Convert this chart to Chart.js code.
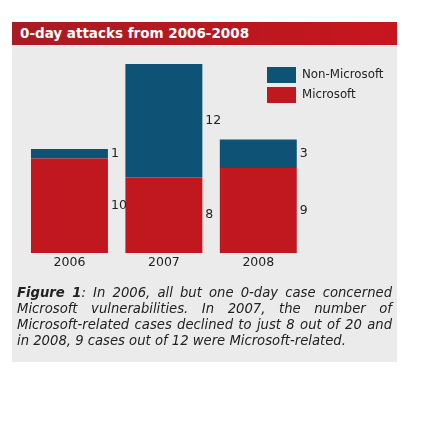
<!DOCTYPE html>
<html>
<head>
<meta charset="utf-8">
<script src="https://cdn.jsdelivr.net/npm/chart.js@4"></script>
<style>
html,body{margin:0;padding:0;background:#fff;width:442px;height:421px;overflow:hidden;}
#panel{position:absolute;left:12px;top:22px;width:385px;height:340px;background:#ebebeb;}
#title{position:absolute;left:12px;top:22px;width:385px;height:23px;background:linear-gradient(to right,#a81c22,#c8151d);color:#fff;font:bold 13.5px "DejaVu Sans",sans-serif;line-height:23px;box-sizing:border-box;padding-left:8px;}
#cv{position:absolute;left:0;top:0;}
#caption{position:absolute;left:17px;top:285px;width:375px;font:italic 13.2px "DejaVu Sans",sans-serif;line-height:16px;color:#222;}
#caption div{text-align:justify;text-align-last:justify;white-space:nowrap;}
#caption div.last{text-align-last:left;}
#caption b{font-weight:bold;}
</style>
</head>
<body>
<div id="panel"></div>
<div id="title">0-day attacks from 2006-2008</div>
<canvas id="cv" width="442" height="421"></canvas>
<div id="caption">
<div><b>Figure 1</b>: In 2006, all but one 0-day case concerned</div>
<div>Microsoft vulnerabilities. In 2007, the number of</div>
<div>Microsoft-related cases declined to just 8 out of 20 and</div>
<div class="last">in 2008, 9 cases out of 12 were Microsoft-related.</div>
</div>
<script>
const years = ['2006','2007','2008'];
const microsoft = [10, 8, 9];
const nonMicrosoft = [1, 12, 3];
const seriesNames = ['Microsoft','Non-Microsoft'];

const valueLabels = {
  id:'valueLabels',
  afterDatasetsDraw(chart){
    const ctx = chart.ctx;
    ctx.save();
    ctx.font = '12.5px "DejaVu Sans", sans-serif';
    ctx.fillStyle = '#222';
    ctx.textBaseline = 'middle';
    ctx.textAlign = 'left';
    chart.data.datasets.forEach((ds,di)=>{
      chart.getDatasetMeta(di).data.forEach((bar,i)=>{
        const p = bar.getProps(['x','y','base','width'],true);
        ctx.fillText(String(ds.data[i]), p.x + p.width/2 + 3, (p.y + p.base)/2);
      });
    });
    ctx.restore();
  }
};

const customLegend = {
  id:'customLegend',
  afterDraw(chart){
    const ctx = chart.ctx;
    ctx.save();
    ctx.font = '11.8px "DejaVu Sans", sans-serif';
    ctx.textBaseline = 'middle';
    ctx.textAlign = 'left';
    const order = [1,0];
    order.forEach((di,k)=>{
      const ds = chart.data.datasets[di];
      const y = 67 + k*20;
      ctx.fillStyle = ds.backgroundColor;
      ctx.fillRect(267, y, 29, 16);
      ctx.fillStyle = '#222';
      ctx.fillText(ds.label, 302, y + 8);
    });
    ctx.restore();
  }
};

new Chart(document.getElementById('cv'), {
  type:'bar',
  data:{
    labels: years,
    datasets:[
      {label: seriesNames[0], data: microsoft, backgroundColor:'#c1171f'},
      {label: seriesNames[1], data: nonMicrosoft, backgroundColor:'#0e5276'}
    ]
  },
  options:{
    responsive:false,
    animation:false,
    devicePixelRatio:1,
    layout:{padding:{left:22.25,right:136.5,top:64,bottom:0}},
    plugins:{legend:{display:false},tooltip:{enabled:false}},
    datasets:{bar:{categoryPercentage:0.815,barPercentage:1}},
    scales:{
      x:{stacked:true,grid:{display:false,drawTicks:false},border:{display:false},
         ticks:{color:'#222',font:{family:'DejaVu Sans',size:12.5},padding:2},
         afterFit(s){ s.height = 421-253; }},
      y:{stacked:true,display:false,min:0,max:20}
    }
  },
  plugins:[valueLabels,customLegend]
});
</script>
</body>
</html>
